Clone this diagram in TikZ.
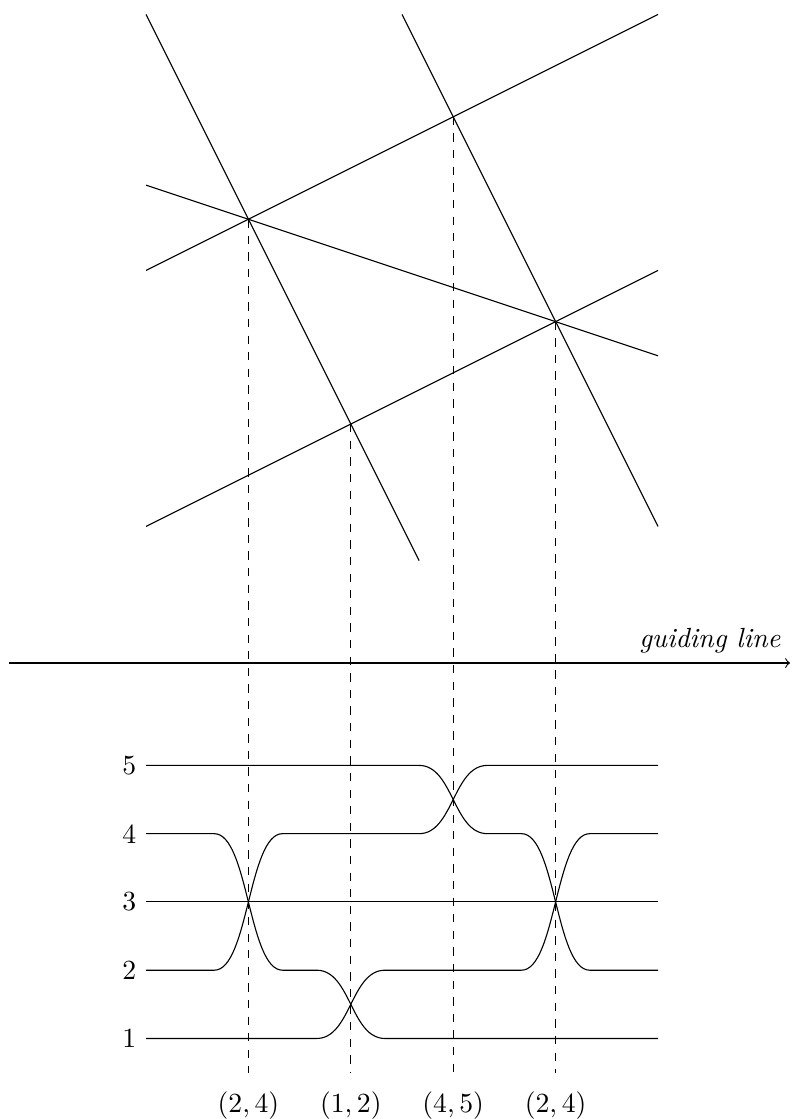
\documentclass[tikz,border=0pt]{standalone}
\begin{document}
\begin{tikzpicture}[x=1.3cm,y=1.3cm,
  ln/.style={line width=0.4pt},
  proj/.style={line width=0.4pt,dashed},
  wire/.style={line width=0.4pt},
  wlabel/.style={left},
  plabel/.style={anchor=north,inner sep=0pt}]
\useasboundingbox (-1.4258,-4.4531) rectangle (6.3086,6.4746);
% intersection points
\coordinate (P1) at (1,13/3);
\coordinate (P2) at (2,7/3);
\coordinate (P3) at (3,16/3);
\coordinate (P4) at (4,10/3);
% line end points
\coordinate (A0) at (0,19/3);   \coordinate (A1) at (8/3,1);
\coordinate (B0) at (2.5,19/3); \coordinate (B1) at (5,4/3);
\coordinate (C0) at (0,23/6);   \coordinate (C1) at (5,19/3);
\coordinate (D0) at (0,4/3);    \coordinate (D1) at (5,23/6);
\coordinate (E0) at (0,14/3);   \coordinate (E1) at (5,3);
\draw[ln] (A0) -- (A1);
\draw[ln] (B0) -- (B1);
\draw[ln] (C0) -- (C1);
\draw[ln] (D0) -- (D1);
\draw[ln] (E0) -- (E1);
% guiding line
\coordinate (g0) at (-1.34,0);
\coordinate (g1) at (6.29,0);
\draw[ln,->] (g0) -- (g1);
\node[above left,font=\itshape] (gl) at (g1) {guiding line};
% projections
\coordinate (e1) at (1,-4);
\coordinate (e2) at (2,-4);
\coordinate (e3) at (3,-4);
\coordinate (e4) at (4,-4);
\draw[proj] (P1) -- (e1);
\draw[proj] (P2) -- (e2);
\draw[proj] (P3) -- (e3);
\draw[proj] (P4) -- (e4);
\node[plabel] (l1) at (1,-4.18) {$(2,4)$};
\node[plabel] (l2) at (2,-4.18) {$(1,2)$};
\node[plabel] (l3) at (3,-4.18) {$(4,5)$};
\node[plabel] (l4) at (4,-4.18) {$(2,4)$};
% wire labels
\node[wlabel] (n5) at (0,-1) {5};
\node[wlabel] (n4) at (0,-5/3) {4};
\node[wlabel] (n3) at (0,-7/3) {3};
\node[wlabel] (n2) at (0,-3) {2};
\node[wlabel] (n1) at (0,-11/3) {1};
% wires
\draw[wire] (n5.east) -- (8/3,-1) .. controls +(1/3,0) and +(-1/3,0) .. (10/3,-5/3)
  -- (11/3,-5/3) .. controls +(1/3,0) and +(-1/3,0) .. (13/3,-3) -- (5,-3);
\draw[wire] (n4.east) -- (2/3,-5/3) .. controls +(1/3,0) and +(-1/3,0) .. (4/3,-3)
  -- (5/3,-3) .. controls +(1/3,0) and +(-1/3,0) .. (7/3,-11/3) -- (5,-11/3);
\draw[wire] (n3.east) -- (5,-7/3);
\draw[wire] (n2.east) -- (2/3,-3) .. controls +(1/3,0) and +(-1/3,0) .. (4/3,-5/3)
  -- (8/3,-5/3) .. controls +(1/3,0) and +(-1/3,0) .. (10/3,-1) -- (5,-1);
\draw[wire] (n1.east) -- (5/3,-11/3) .. controls +(1/3,0) and +(-1/3,0) .. (7/3,-3)
  -- (11/3,-3) .. controls +(1/3,0) and +(-1/3,0) .. (13/3,-5/3) -- (5,-5/3);
\end{tikzpicture}
\end{document}
